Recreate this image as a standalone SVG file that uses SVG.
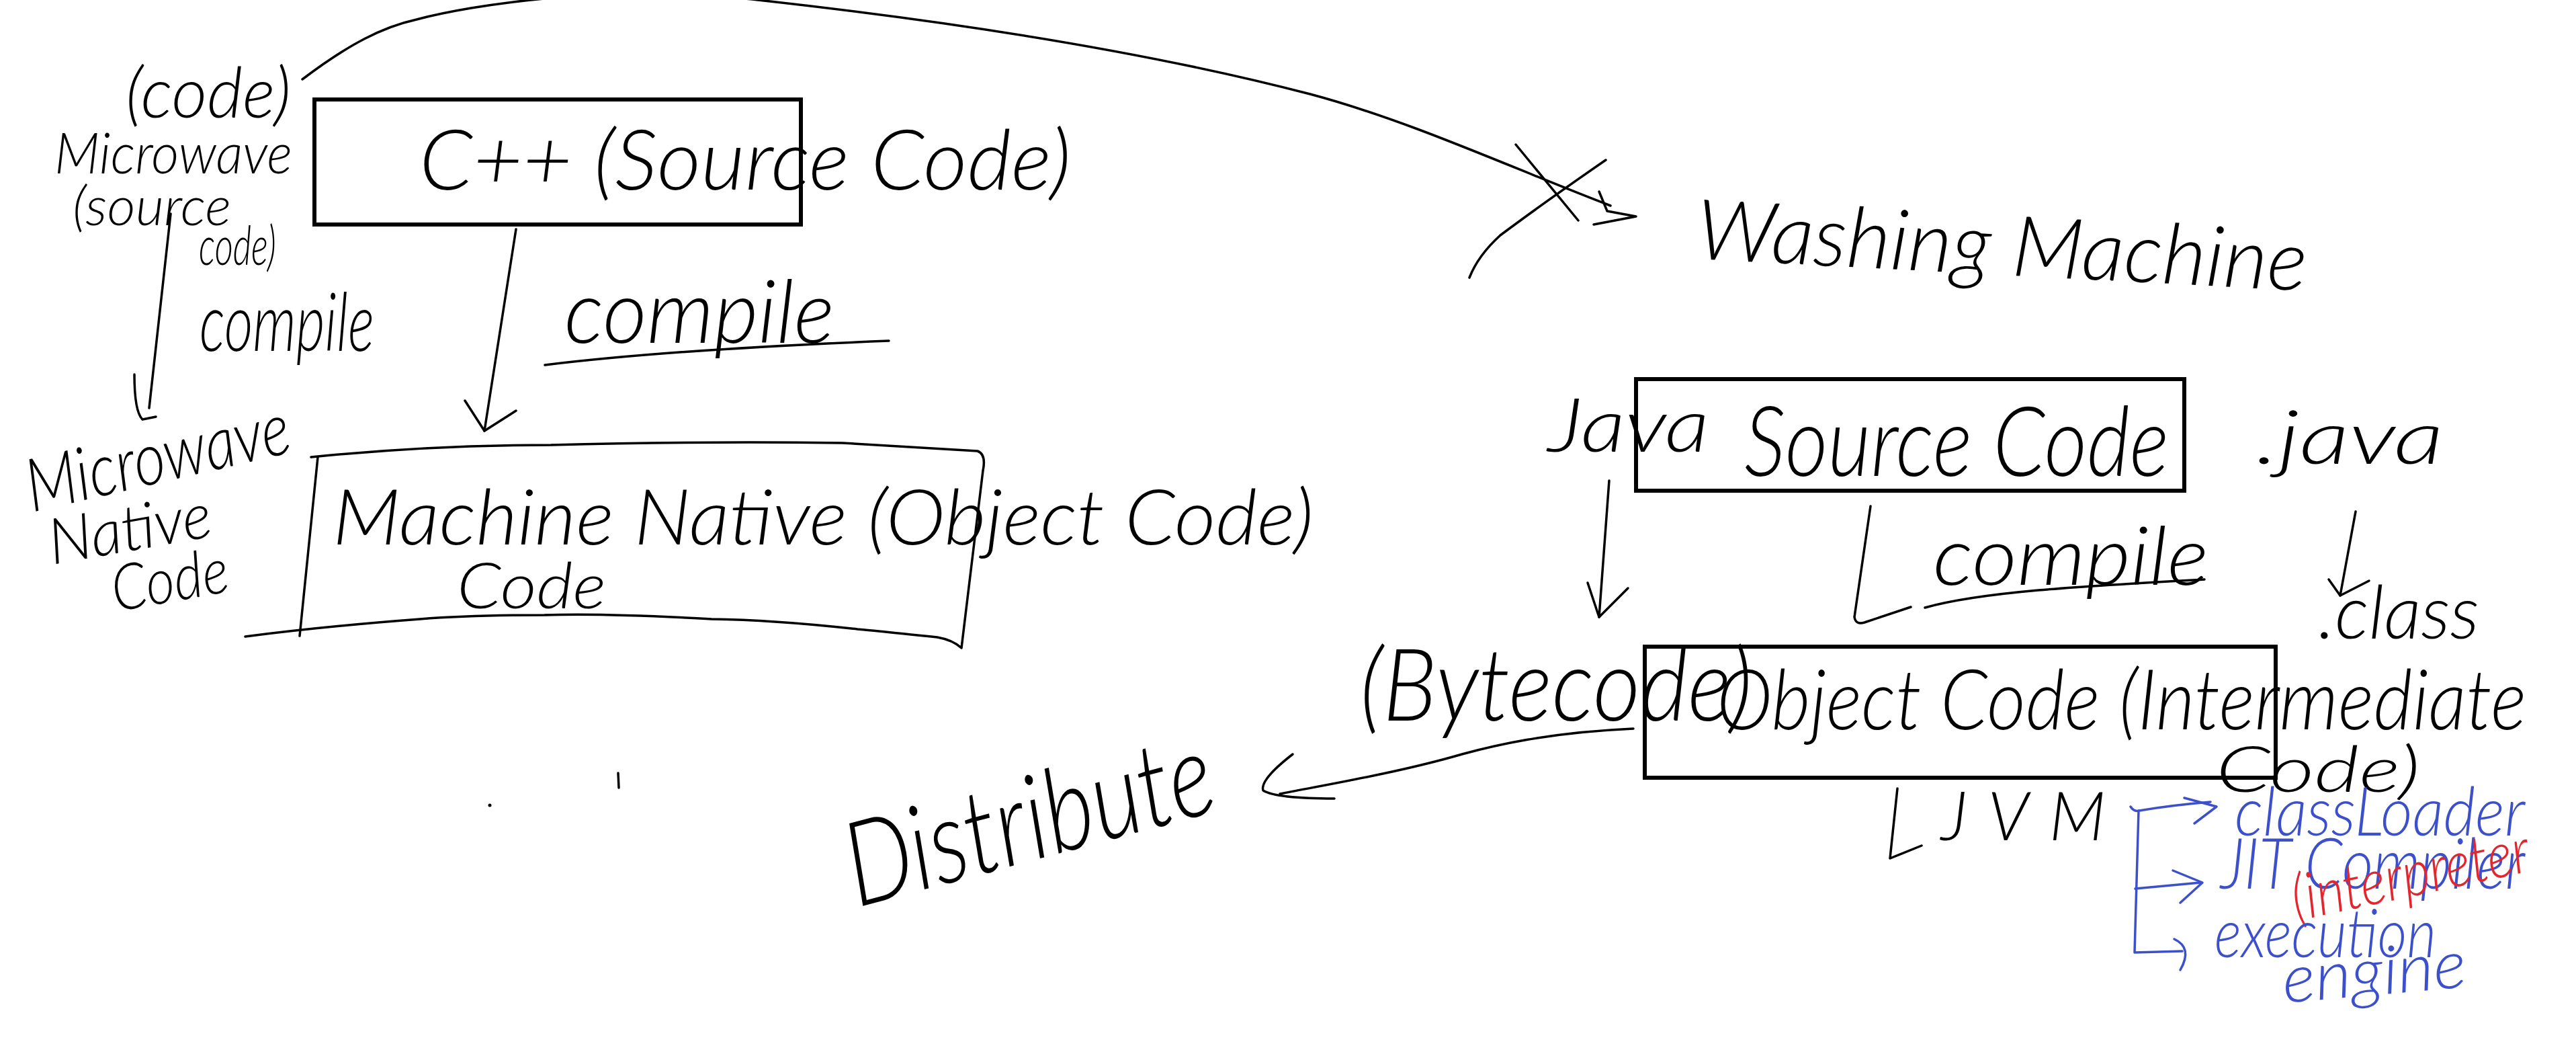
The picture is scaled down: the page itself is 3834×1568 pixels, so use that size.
<svg xmlns="http://www.w3.org/2000/svg" width="3834" height="1568" viewBox="0 0 3834 1568">
<style>
.t{font-family:Lato,"Open Sans","DejaVu Sans",sans-serif;font-style:italic;font-weight:300;fill:#000}
.b{fill:#3d50cc}
.r{fill:#e3262d}
.ln{fill:none;stroke:#000;stroke-width:3.5;stroke-linecap:round;stroke-linejoin:round}
.bl{fill:none;stroke:#3d50cc;stroke-width:3.5;stroke-linecap:round;stroke-linejoin:round}
.box{fill:none;stroke:#000;stroke-width:6}
</style>
<rect x="0" y="0" width="3834" height="1568" fill="#fff"/>

<g id="microwave-source">
<text class="t" x="187" y="175" font-size="105" textLength="246" lengthAdjust="spacingAndGlyphs">(code)</text>
<text class="t" x="81" y="258" font-size="85" textLength="354" lengthAdjust="spacingAndGlyphs">Microwave</text>
<text class="t" x="108" y="335" font-size="80" textLength="236" lengthAdjust="spacingAndGlyphs">(source</text>
<text class="t" x="296" y="394" font-size="80" textLength="115" lengthAdjust="spacingAndGlyphs">code)</text>
</g>

<g id="microwave-compile-label">
<text class="t" x="297" y="522" font-size="120" textLength="260" lengthAdjust="spacingAndGlyphs">compile</text>
</g>

<g id="microwave-native">
<text class="t" x="48" y="762" font-size="110" textLength="400" lengthAdjust="spacingAndGlyphs" transform="rotate(-13 48 762)">Microwave</text>
<text class="t" x="78" y="840" font-size="95" textLength="245" lengthAdjust="spacingAndGlyphs" transform="rotate(-10 78 840)">Native</text>
<text class="t" x="172" y="910" font-size="95" textLength="175" lengthAdjust="spacingAndGlyphs" transform="rotate(-10 172 910)">Code</text>
</g>

<g id="cpp-source">
<rect class="box" x="468" y="148" width="724" height="186"/>
<text class="t" x="624" y="282" font-size="125" textLength="970" lengthAdjust="spacingAndGlyphs">C++ (Source Code)</text>
</g>

<g id="cpp-compile-label">
<text class="t" x="840" y="510" font-size="130" textLength="402" lengthAdjust="spacingAndGlyphs">compile</text>
<path class="ln" d="M811,543 Q1000,520 1323,507"/>
</g>

<g id="machine-native">
<path class="ln" d="M463,680 Q640,662 820,662 Q1050,656 1254,659 L1455,671 Q1468,676 1463,700 L1431,964 Q1418,952 1395,948 Q1280,936 1276,936 Q1150,922 1059,921 Q900,912 810,915 Q700,915 625,921 Q480,932 365,947"/>
<path class="ln" d="M473,680 L446,946"/>
<text class="t" x="495" y="810" font-size="115" textLength="1460" lengthAdjust="spacingAndGlyphs">Machine Native (Object Code)</text>
<text class="t" x="680" y="905" font-size="95" textLength="222" lengthAdjust="spacingAndGlyphs">Code</text>
</g>

<g id="washing-machine">
<text class="t" x="2523" y="385" font-size="125" textLength="910" lengthAdjust="spacingAndGlyphs" transform="rotate(3 2523 385)">Washing Machine</text>
</g>

<g id="java-source">
<rect class="box" x="2435" y="564" width="816" height="166"/>
<text class="t" x="2304" y="672" font-size="110" textLength="240" lengthAdjust="spacingAndGlyphs">Java</text>
<text class="t" x="2596" y="708" font-size="145" textLength="632" lengthAdjust="spacingAndGlyphs">Source Code</text>
<text class="t" x="3357" y="690" font-size="110" textLength="280" lengthAdjust="spacingAndGlyphs">.java</text>
</g>

<g id="java-compile-label">
<text class="t" x="2877" y="870" font-size="120" textLength="410" lengthAdjust="spacingAndGlyphs">compile</text>
<path class="ln" d="M2865,904 C2950,880 3100,872 3281,862"/>
</g>

<g id="class-label">
<text class="t" x="3450" y="950" font-size="110" textLength="240" lengthAdjust="spacingAndGlyphs">.class</text>
</g>

<g id="object-code">
<rect class="box" x="2448" y="962" width="939" height="195"/>
<text class="t" x="2555" y="1085" font-size="125" textLength="1205" lengthAdjust="spacingAndGlyphs">Object Code (Intermediate</text>
<text class="t" x="3298" y="1178" font-size="95" textLength="304" lengthAdjust="spacingAndGlyphs">Code)</text>
</g>

<g id="bytecode-label">
<text class="t" x="2024" y="1072" font-size="150" textLength="584" lengthAdjust="spacingAndGlyphs">(Bytecode)</text>
</g>

<g id="distribute">
<text class="t" x="1276" y="1350" font-size="175" textLength="560" lengthAdjust="spacingAndGlyphs" transform="rotate(-15 1276 1350)">Distribute</text>
</g>

<g id="jvm">
<text class="t" x="2889" y="1250" font-size="100" textLength="245" lengthAdjust="spacing">JVM</text>
</g>

<g id="jvm-parts">
<text class="t b" x="3326" y="1243" font-size="100" textLength="432" lengthAdjust="spacingAndGlyphs">classLoader</text>
<text class="t b" x="3305" y="1322" font-size="105" textLength="453" lengthAdjust="spacingAndGlyphs">JIT Compiler</text>
<text class="t r" x="3418" y="1370" font-size="95" textLength="360" lengthAdjust="spacingAndGlyphs" transform="rotate(-12 3418 1370)">(interpreter</text>
<text class="t b" x="3296" y="1424" font-size="100" textLength="330" lengthAdjust="spacingAndGlyphs">execution</text>
<text class="t b" x="3400" y="1492" font-size="100" textLength="274" lengthAdjust="spacingAndGlyphs" transform="rotate(-5 3400 1492)">engine</text>
</g>

<g id="connectors">
<path class="ln" d="M450,118 C520,65 570,40 620,29 C700,8 900,-25 1128,0 C1400,30 1700,75 1950,140 C2100,180 2250,250 2397,306"/>
<path class="ln" d="M2380,285 L2392,314 L2435,322 L2372,334"/>
<path class="ln" d="M2256,215 L2349,328"/>
<path class="ln" d="M2390,238 Q2300,300 2233,350 Q2200,380 2187,413"/>
<path class="ln" d="M254,318 L222,607"/>
<path class="ln" d="M200,557 Q200,612 212,624 L232,620"/>
<path class="ln" d="M768,341 L721,641"/>
<path class="ln" d="M692,596 L721,641 L768,611"/>
<path class="ln" d="M2395,715 L2380,918"/>
<path class="ln" d="M2363,867 L2380,918 L2423,875"/>
<path class="ln" d="M2784,753 L2760,918 Q2762,930 2775,926 L2844,903"/>
<path class="ln" d="M3506,761 L3483,886"/>
<path class="ln" d="M3466,862 L3483,886 L3526,864"/>
<path class="ln" d="M2431,1084 C2300,1090 2220,1110 2176,1122 C2080,1150 1960,1170 1905,1181"/>
<path class="ln" d="M1924,1122 Q1875,1160 1880,1176 Q1900,1188 1986,1188"/>
<path class="ln" d="M2824,1173 L2813,1277 L2860,1258"/>
<path class="bl" d="M3171,1200 Q3176,1208 3184,1206 Q3230,1198 3290,1193"/>
<path class="bl" d="M3251,1187 L3299,1200 L3266,1225"/>
<path class="bl" d="M3183,1206 L3177,1417 L3248,1415"/>
<path class="bl" d="M3178,1322 L3275,1313"/>
<path class="bl" d="M3234,1295 L3278,1313 L3245,1343"/>
<path class="bl" d="M3236,1397 Q3264,1410 3245,1443"/>
</g>

<circle cx="729" cy="1198" r="2.5" fill="#000"/>
<path class="ln" d="M920,1150 L921,1172"/>
</svg>
